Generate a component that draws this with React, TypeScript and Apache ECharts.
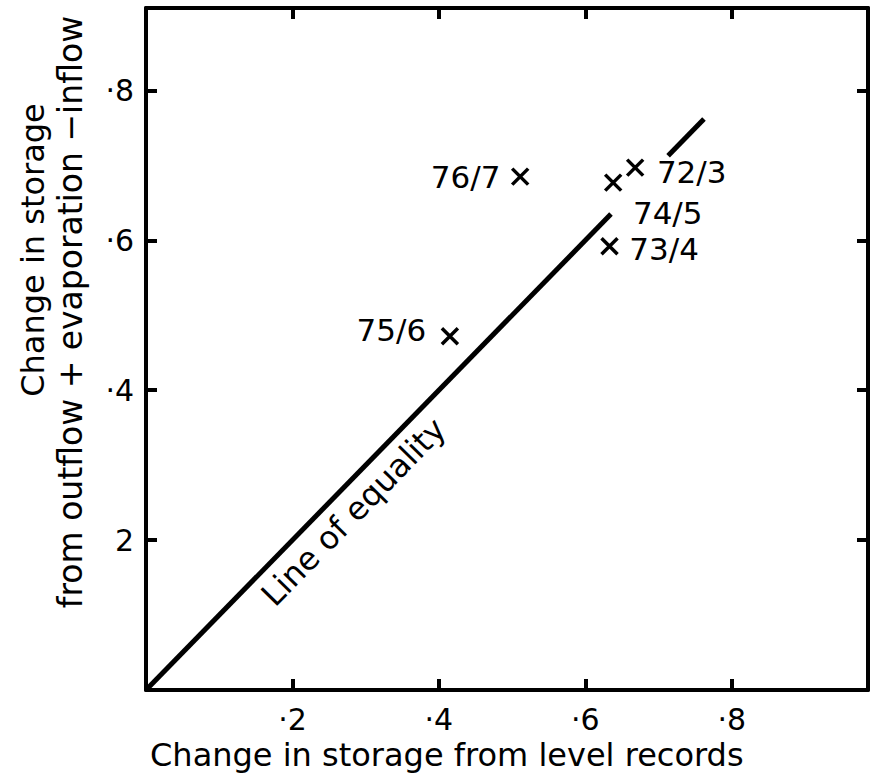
import React, { useEffect, useRef } from "react";
import * as echarts from "echarts";

// ---- data ----
const seasons = ["72/3", "73/4", "74/5", "75/6", "76/7"];
const levelChange = [0.668, 0.633, 0.638, 0.415, 0.511];
const balanceChange = [0.697, 0.592, 0.677, 0.472, 0.685];

const equalityLower = [0, 0.635];
const equalityUpper = [0.713, 0.762];
const equalityLabelSpan = [0, 0.52];

const xTickValues = [0.2, 0.4, 0.6, 0.8];
const xTickLabels = ["·2", "·4", "·6", "·8"];
const yTickValues = [0.2, 0.4, 0.6, 0.8];
const yTickLabels = ["2", "·4", "·6", "·8"];

const xTitle = "Change in storage from level records";
const yTitle1 = "Change in storage";
const yTitle2 = "from outflow + evaporation \u2212inflow";
const lineLabel = "Line of equality";

// ---- styles ----
const FONT = "DejaVu Sans";
const labelPlacement: Record<string, any> = {
  "72/3": { position: "right", distance: 12, offset: [0, 4] },
  "73/4": { position: "right", distance: 10, offset: [0, 3] },
  "74/5": { position: "right", distance: 10, offset: [0, 30] },
  "75/6": { position: "left", distance: 14, offset: [0, -6] },
  "76/7": { position: "left", distance: 10, offset: [0, 0] },
};

const fmt = (vals: number[], labels: string[]) => (v: number) => {
  const i = vals.findIndex((t) => Math.abs(t - v) < 1e-6);
  return i >= 0 ? labels[i] : "";
};

export default function App() {
  const ref = useRef<HTMLDivElement>(null);
  useEffect(() => {
    document.body.style.margin = "0";
    if (!ref.current) return;
    const chart = echarts.init(ref.current, undefined, { renderer: "svg" });
    const axisLine = { show: true, onZero: false, lineStyle: { color: "#000", width: 4 } };
    const tickIn = { show: true, inside: true, length: 11, lineStyle: { color: "#000", width: 4 } };
    const points = seasons.map((s, i) => ({
      value: [levelChange[i], balanceChange[i]],
      name: s,
      label: {
        show: true,
        formatter: s,
        color: "#000",
        fontFamily: FONT,
        fontSize: 31,
        ...labelPlacement[s],
      },
    }));
    chart.setOption({
      animation: false,
      backgroundColor: "#fff",
      grid: { left: 146, right: 4, top: 8, bottom: 89, containLabel: false },
      xAxis: [
        {
          type: "value",
          min: 0,
          max: 0.986,
          interval: 0.2,
          position: "bottom",
          axisLine,
          axisTick: tickIn,
          splitLine: { show: false },
          axisLabel: {
            formatter: fmt(xTickValues, xTickLabels),
            color: "#000",
            fontFamily: FONT,
            fontSize: 30,
            margin: 14,
          },
        },
        {
          type: "value",
          min: 0,
          max: 0.986,
          interval: 0.2,
          position: "top",
          axisLine,
          axisTick: tickIn,
          splitLine: { show: false },
          axisLabel: { show: false },
        },
      ],
      yAxis: [
        {
          type: "value",
          min: 0,
          max: 0.91,
          interval: 0.2,
          position: "left",
          axisLine,
          axisTick: tickIn,
          splitLine: { show: false },
          axisLabel: {
            formatter: fmt(yTickValues, yTickLabels),
            color: "#000",
            fontFamily: FONT,
            fontSize: 30,
            margin: 12,
          },
        },
        {
          type: "value",
          min: 0,
          max: 0.91,
          interval: 0.2,
          position: "right",
          axisLine,
          axisTick: tickIn,
          splitLine: { show: false },
          axisLabel: { show: false },
        },
      ],
      series: [
        {
          type: "line",
          name: "equality-lower",
          data: [
            [equalityLower[0], equalityLower[0]],
            [equalityLower[1], equalityLower[1]],
          ],
          symbol: "none",
          lineStyle: { color: "#000", width: 5 },
          markLine: {
            silent: true,
            symbol: ["none", "none"],
            lineStyle: { color: "rgba(0,0,0,0)", width: 1, type: "solid" },
            label: {
              show: true,
              position: "insideMiddleBottom",
              formatter: lineLabel,
              color: "#000",
              fontFamily: FONT,
              fontSize: 32,
              distance: 8,
            },
            data: [
              [
                { coord: [equalityLabelSpan[0], equalityLabelSpan[0]] },
                { coord: [equalityLabelSpan[1], equalityLabelSpan[1]] },
              ],
            ],
          },
        },
        {
          type: "line",
          name: "equality-upper",
          data: [
            [equalityUpper[0], equalityUpper[0]],
            [equalityUpper[1], equalityUpper[1]],
          ],
          symbol: "none",
          lineStyle: { color: "#000", width: 5 },
        },
        {
          type: "scatter",
          name: "years",
          symbol: "path://M0,0L10,10M10,0L0,10",
          symbolSize: 16,
          itemStyle: { color: "transparent", borderColor: "#000", borderWidth: 3.5, opacity: 1 },
          data: points,
        },
      ],
      graphic: [
        {
          type: "text",
          left: 150,
          top: 739,
          style: { text: xTitle, font: `32px "${FONT}"`, fill: "#000" },
        },
        {
          type: "text",
          x: 33,
          y: 250,
          rotation: Math.PI / 2,
          style: {
            text: yTitle1,
            font: `32px "${FONT}"`,
            fill: "#000",
            textAlign: "center",
            textVerticalAlign: "middle",
          },
        },
        {
          type: "text",
          x: 70,
          y: 312,
          rotation: Math.PI / 2,
          style: {
            text: yTitle2,
            font: `33px "${FONT}"`,
            fill: "#000",
            textAlign: "center",
            textVerticalAlign: "middle",
          },
        },
      ],
    });
    return () => chart.dispose();
  }, []);
  return <div ref={ref} style={{ width: 872, height: 779 }} />;
}
